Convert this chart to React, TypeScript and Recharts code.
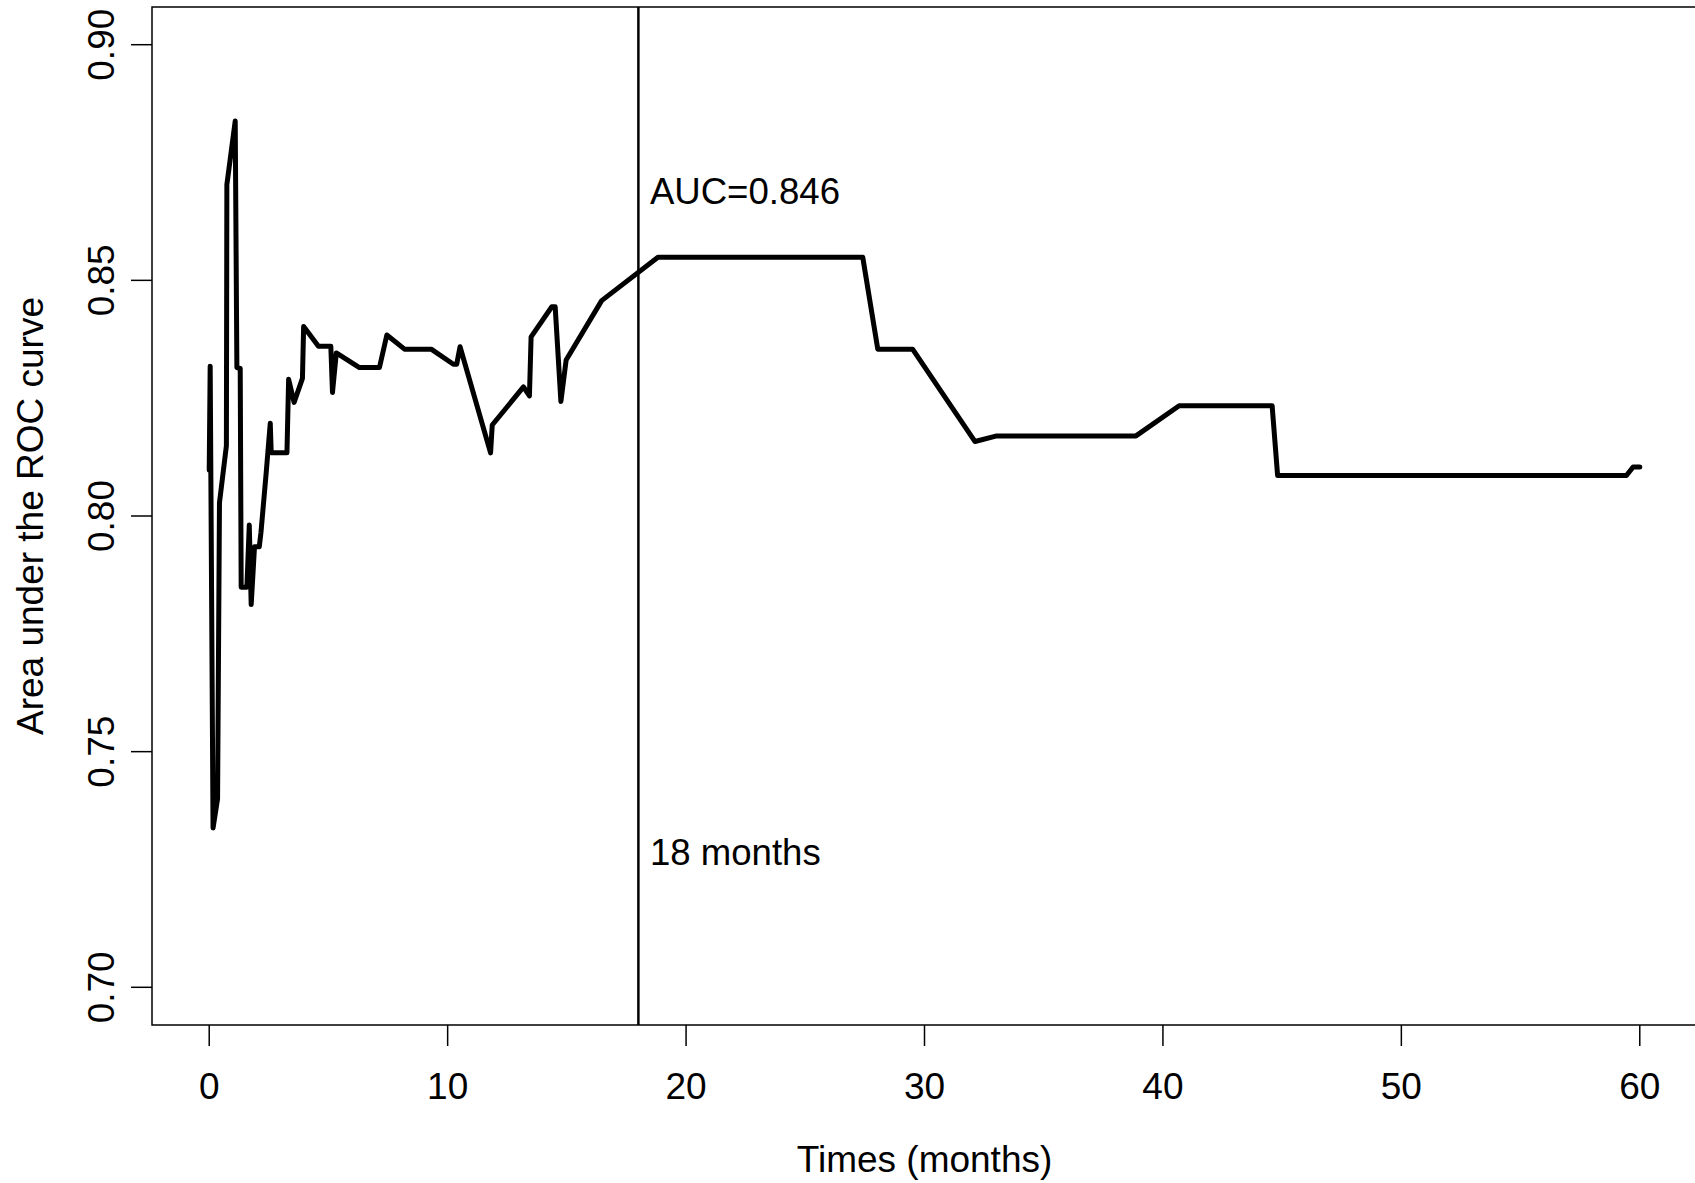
import { LineChart, Line, XAxis, YAxis, ReferenceLine, ReferenceArea, ReferenceDot } from "recharts";

// time-dependent AUC
const times = [
  0.0, 0.04, 0.16, 0.35, 0.43, 0.72, 0.74, 1.09, 1.16, 1.3,
  1.34, 1.58, 1.68, 1.76, 1.9, 2.1, 2.17, 2.39, 2.56, 2.6,
  3.26, 3.33, 3.56, 3.91, 3.96, 4.58, 5.1, 5.17, 5.33, 6.3,
  7.14, 7.45, 8.19, 9.31, 10.24, 10.38, 10.52, 11.8, 11.87, 13.18,
  13.43, 13.5, 14.37, 14.51, 14.75, 14.97, 16.46, 18.82, 27.41, 28.04,
  29.5, 32.12, 33.03, 38.87, 40.68, 44.58, 44.81, 59.44, 59.72, 60.0,
];
const auc = [
  0.8097, 0.8318, 0.7338, 0.74, 0.8028, 0.8149, 0.8703, 0.8838, 0.8315, 0.8313,
  0.7849, 0.7849, 0.7981, 0.7812, 0.7935, 0.7935, 0.7965, 0.8092, 0.8197, 0.8134,
  0.8134, 0.829, 0.8241, 0.8292, 0.8402, 0.836, 0.836, 0.8262, 0.8346, 0.8315,
  0.8315, 0.8384, 0.8354, 0.8354, 0.8322, 0.8322, 0.8359, 0.8134, 0.8193, 0.8274,
  0.8255, 0.838, 0.8444, 0.8444, 0.8243, 0.8331, 0.8457, 0.8549, 0.8549, 0.8354,
  0.8354, 0.8158, 0.817, 0.817, 0.8234, 0.8234, 0.8086, 0.8086, 0.8104, 0.8104,
];

const xTicks = [0, 10, 20, 30, 40, 50, 60];
const yTicks = [0.7, 0.75, 0.8, 0.85, 0.9];
const xDomain = [-2.4, 62.4];
const yDomain = [0.692, 0.908];

const cutoff = 18;
const aucText = "AUC=0.846";
const aucTextY = 0.869;
const cutoffText = "18 months";
const cutoffTextY = 0.7288;

const font = '"Liberation Sans", Arial, Helvetica, sans-serif';

const rows = times.map((t, i) => ({ t, auc: auc[i] }));

function XTick({ x, y, payload }: any) {
  return (
    <text x={x} y={y + 51} textAnchor="middle" fontSize={37} fontFamily={font} fill="#000">
      {payload.value}
    </text>
  );
}

function YTick({ x, y, payload }: any) {
  const bx = x - 15;
  return (
    <text
      x={bx}
      y={y}
      transform={`rotate(-90, ${bx}, ${y})`}
      textAnchor="middle"
      fontSize={37}
      fontFamily={font}
      fill="#000"
    >
      {Number(payload.value).toFixed(2)}
    </text>
  );
}

const sideNote = (text: string) => (props: any) => {
  const vb = props.viewBox || {};
  return (
    <text x={vb.x + 11.5} y={vb.y + 13.3} fontSize={36.6} fontFamily={font} fill="#000">
      {text}
    </text>
  );
};

export default function App() {
  return (
    <div style={{ position: "fixed", left: 0, top: 0, width: 1695, height: 1183, overflow: "hidden", background: "#fff" }}>
      <style>{`body{margin:0}`}</style>
      <LineChart width={1700} height={1183} data={rows} margin={{ top: 7, right: 3, bottom: 0, left: 0 }}>
        <XAxis
          dataKey="t"
          type="number"
          domain={xDomain}
          ticks={xTicks}
          allowDataOverflow
          height={158}
          axisLine={false}
          tickSize={21}
          tickLine={{ stroke: "#000", strokeWidth: 1.5 }}
          tick={<XTick />}
          label={(p: any) => {
            const vb = p.viewBox || {};
            return (
              <text x={vb.x + vb.width / 2} y={vb.y + 147} textAnchor="middle" fontSize={37} fontFamily={font} fill="#000">
                Times (months)
              </text>
            );
          }}
        />
        <YAxis
          type="number"
          domain={yDomain}
          ticks={yTicks}
          allowDataOverflow
          width={152}
          axisLine={false}
          tickSize={21}
          tickLine={{ stroke: "#000", strokeWidth: 1.5 }}
          tick={<YTick />}
          label={(p: any) => {
            const vb = p.viewBox || {};
            const cx = vb.x + 43;
            const cy = vb.y + vb.height / 2;
            return (
              <text x={cx} y={cy} transform={`rotate(-90, ${cx}, ${cy})`} textAnchor="middle" fontSize={37} fontFamily={font} fill="#000">
                Area under the ROC curve
              </text>
            );
          }}
        />
        <ReferenceArea
          x1={xDomain[0]}
          x2={xDomain[1]}
          y1={yDomain[0]}
          y2={yDomain[1]}
          fill="none"
          fillOpacity={0}
          stroke="#000"
          strokeWidth={1.5}
          ifOverflow="visible"
        />
        <ReferenceLine x={cutoff} stroke="#000" strokeWidth={2.5} />
        <ReferenceDot x={cutoff} y={aucTextY} r={0} fill="none" stroke="none" label={sideNote(aucText)} />
        <ReferenceDot x={cutoff} y={cutoffTextY} r={0} fill="none" stroke="none" label={sideNote(cutoffText)} />
        <Line
          type="linear"
          dataKey="auc"
          stroke="#000"
          strokeWidth={5}
          strokeLinejoin="round"
          strokeLinecap="round"
          dot={false}
          activeDot={false}
          isAnimationActive={false}
        />
      </LineChart>
    </div>
  );
}
